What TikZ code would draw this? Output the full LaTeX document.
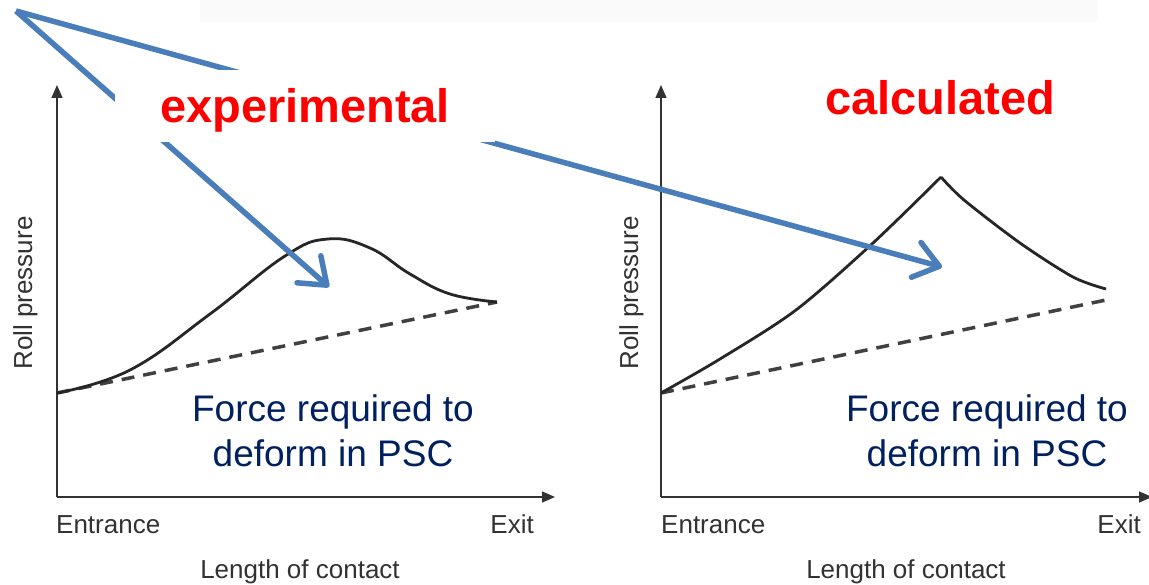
\documentclass[tikz,border=0pt]{standalone}
\usepackage{fontspec}
\setmainfont{Liberation Sans}
\usetikzlibrary{arrows.meta,positioning}

\definecolor{pptblue}{RGB}{74,126,187}
\definecolor{navytext}{RGB}{0,32,96}
\definecolor{axisgray}{RGB}{50,50,50}

\begin{document}
\begin{tikzpicture}[
    x=1pt, y=-1pt,
    axis/.style={axisgray, line width=1.5pt, -{Triangle[length=13pt, width=11pt]}},
    curve/.style={black!85, line width=2.8pt, line join=round},
    linear/.style={black!75, line width=3.5pt, dash pattern=on 13pt off 9pt},
    pointer/.style={pptblue, line width=5.5pt, -{Straight Barb[length=24pt, width=36pt, round]}},
    tag/.style={red, font=\fontsize{47}{56}\selectfont\bfseries, inner sep=0pt},
    lbl/.style={axisgray, font=\fontsize{26}{31}\selectfont, inner sep=0pt},
    note/.style={navytext, font=\fontsize{37}{45}\selectfont, align=center, inner sep=0pt}
]
    \useasboundingbox (0,0) rectangle (1149,585);
    % cropped formula strip at the top
    \fill[black!2] (200,0) rectangle (1098,22);

    % Left plot: experimental
    \coordinate (lO) at (57,497);
    \coordinate (lY) at (57,85);
    \coordinate (lX) at (555,497);
    \coordinate (lStart) at (57,393);
    \coordinate (lEnd) at (497,302);
    \draw[axis] (lO) -- (lY);
    \draw[axis] (lO) -- (lX);
    \draw[linear] (lStart) -- (lEnd);
    \draw[curve] plot[smooth, tension=0.7] coordinates {(57,393) (130,370) (210,314) (285,256) (328,239) (370,248) (410,274) (450,294) (497,302)};
    \node[lbl, anchor=base west] (lEnt) at (56,533) {Entrance};
    \node[lbl, anchor=base east] (lExit) at (534,533) {Exit};
    \node[lbl, anchor=base] (lLen) at (300,578) {Length of contact};
    \node[lbl, rotate=90, anchor=base] (lRoll) at (32,293) {Roll pressure};
    \node[note, anchor=north] (lNote) at (333,394) {Force required to\\deform in PSC};

    % Right plot: calculated
    \coordinate (rO) at (661,497);
    \coordinate (rY) at (661,85);
    \coordinate (rX) at (1152,497);
    \coordinate (rStart) at (661,393);
    \coordinate (rEnd) at (1106,300);
    \draw[axis] (rO) -- (rY);
    \draw[axis] (rO) -- (rX);
    \draw[linear] (rStart) -- (rEnd);
    \draw[curve] plot[smooth, tension=0.5] coordinates {(661,393) (720,359) (796,310) (873,243) (941,177)};
    \draw[curve] plot[smooth, tension=0.5] coordinates {(941,177) (964,200) (1020,243) (1073,277) (1106,289)};
    \node[lbl, anchor=base west] (rEnt) at (661,533) {Entrance};
    \node[lbl, anchor=base east] (rExit) at (1141,533) {Exit};
    \node[lbl, anchor=base] (rLen) at (906,578) {Length of contact};
    \node[lbl, rotate=90, anchor=base] (rRoll) at (638,293) {Roll pressure};
    \node[note, anchor=north] (rNote) at (987,394) {Force required to\\deform in PSC};

    % Blue pointers
    \coordinate (src) at (16,11);
    \coordinate (expTip) at (329,287);
    \coordinate (calcTip) at (942,267);
    \draw[pointer] (src) -- (expTip);
    \draw[pointer] (src) -- (calcTip);

    % Tags
    \node[tag, fill=white, anchor=base, text height=53pt, text depth=19pt, minimum width=380pt] (expTag) at (305,123) {experimental};
    \node[tag, anchor=base] (calcTag) at (940,115) {calculated};
\end{tikzpicture}
\end{document}
